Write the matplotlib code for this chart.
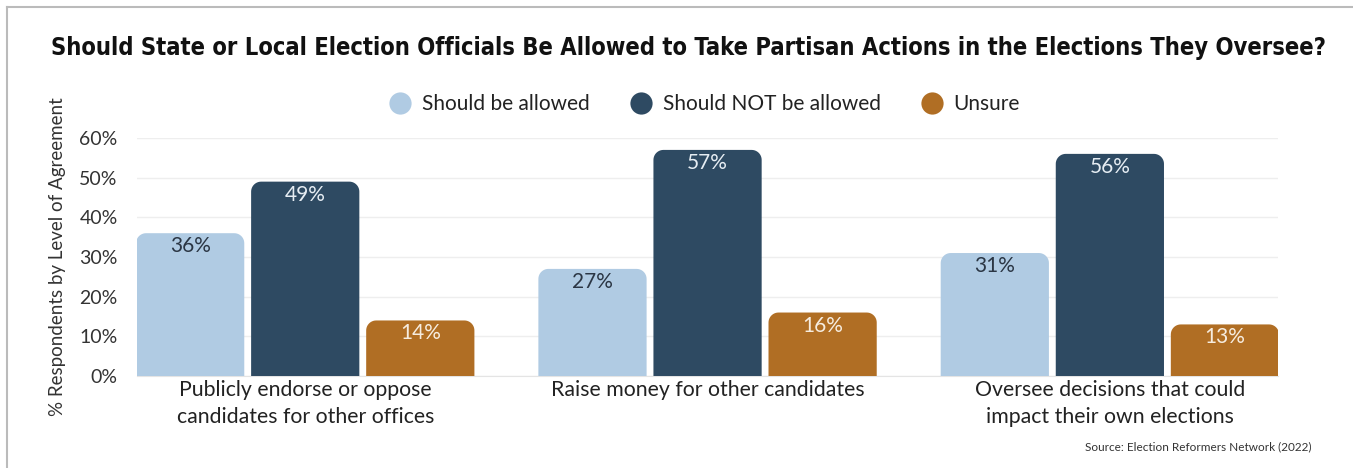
import matplotlib
matplotlib.use("Agg")
import matplotlib.pyplot as plt
from matplotlib.patches import PathPatch
from matplotlib.path import Path
from matplotlib.lines import Line2D
import numpy as np

categories = ["Publicly endorse or oppose\ncandidates for other offices",
              "Raise money for other candidates",
              "Oversee decisions that could\nimpact their own elections"]
series_names = ["Should be allowed", "Should NOT be allowed", "Unsure"]
allowed = [36, 27, 31]
not_allowed = [49, 57, 56]
unsure = [14, 16, 13]
yticks = [0, 10, 20, 30, 40, 50, 60]

colors = ["#b0cbe3", "#2e4a62", "#b06e24"]
label_colors = ["#2b3644", "#e6edf3", "#f6ecdf"]

plt.rcParams['font.family'] = ['Lato', 'DejaVu Sans']

fig = plt.figure(figsize=(13.53, 4.68), dpi=100)
ax = fig.add_axes([0.1013, 0.1966, 0.8433, 0.5085])

x = np.arange(len(categories))
step = 0.286
width = 0.269
ax.set_xlim(-0.418, 2.418)
ax.set_ylim(0, 60)

# px per data unit, for round corners
px_x = 0.8433 * 1353 / (2.418 + 0.418)
px_y = 0.5085 * 468 / 60.0
r_px = 10


def top_rounded(x0, w, h, rx, ry):
    t = np.linspace(0, np.pi / 2, 12)
    left = [(x0 + rx - rx * np.cos(a), h - ry + ry * np.sin(a)) for a in t]
    right = [(x0 + w - rx + rx * np.sin(a), h - ry + ry * np.cos(a)) for a in t]
    pts = [(x0, 0)] + left + right + [(x0 + w, 0), (x0, 0)]
    codes = [Path.MOVETO] + [Path.LINETO] * (len(pts) - 2) + [Path.CLOSEPOLY]
    return Path(pts, codes)


for i, vals in enumerate([allowed, not_allowed, unsure]):
    bars = ax.bar(x + (i - 1) * step, vals, width, color=colors[i], alpha=0)
    for b, v in zip(bars, vals):
        bx, bw = b.get_x(), b.get_width()
        ax.add_patch(PathPatch(top_rounded(bx, bw, v, r_px / px_x, r_px / px_y),
                               facecolor=colors[i], edgecolor="none", zorder=3))
        ax.text(bx + bw / 2, v - 13 / px_y, "%d%%" % v, ha="center", va="center",
                fontsize=15, color=label_colors[i], zorder=4)

ax.set_yticks(yticks)
ax.set_yticklabels(["%d%%" % t for t in yticks], fontsize=14, color="#333333")
ax.set_xticks(x)
ax.set_xticklabels(categories, fontsize=15.3, color="#222222", linespacing=1.45)
ax.tick_params(axis="both", length=0)
ax.tick_params(axis="y", pad=14)
ax.tick_params(axis="x", pad=3)
ax.grid(axis="y", color="#eeeeee", linewidth=1, zorder=0)
ax.set_axisbelow(True)
for s in ["top", "right", "left"]:
    ax.spines[s].set_visible(False)
ax.spines["bottom"].set_color("#e4e4e4")
ax.set_ylabel("% Respondents by Level of Agreement", fontsize=13.5, color="#333333")
ax.yaxis.set_label_coords(-0.062, 0.5)

handles = [Line2D([], [], marker="o", linestyle="none", markersize=16,
                  markerfacecolor=c, markeredgecolor="none") for c in colors]
fig.legend(handles, series_names, loc="center", bbox_to_anchor=(0.517, 0.778),
           ncol=3, frameon=False, fontsize=15, handletextpad=0.05, columnspacing=1.45,
           labelcolor="#222222")

fig.text(0.509, 0.897, "Should State or Local Election Officials Be Allowed to Take Partisan Actions in the Elections They Oversee?",
         ha="center", va="center", fontsize=17, fontweight="bold", fontstretch="condensed",
         family=["DejaVu Sans"], color="#111111")
fig.text(0.969, 0.045, "Source: Election Reformers Network (2022)", ha="right",
         va="center", fontsize=8.5, color="#333333")

# frame lines
fig.add_artist(Line2D([7 / 1353, 7 / 1353], [0, 1 - 7 / 468], transform=fig.transFigure,
                      color="#bbbbbb", linewidth=1.5))
fig.add_artist(Line2D([7 / 1353, 1], [1 - 7 / 468, 1 - 7 / 468], transform=fig.transFigure,
                      color="#bbbbbb", linewidth=1.5))

fig.savefig("out.png", dpi=100)
